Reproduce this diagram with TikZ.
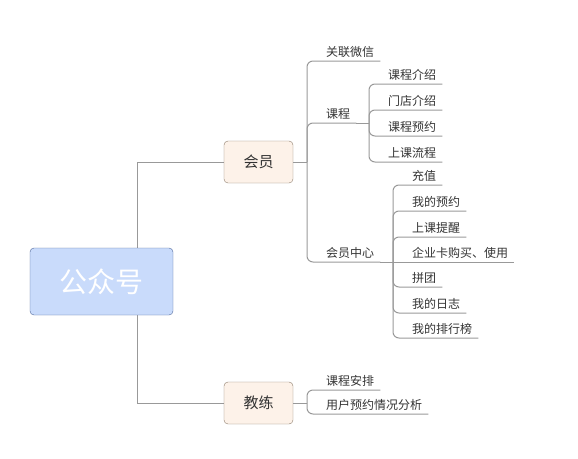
\documentclass[tikz,border=0pt]{standalone}
\usepackage{fontspec}
\newfontfamily\cjk{Noto Sans CJK SC}
\usepackage{xcolor}
\usepackage{tikz}
\usetikzlibrary{positioning, backgrounds, calc}
\definecolor{mmblue}{HTML}{C9DBFB}
\definecolor{mmblueline}{HTML}{4E6699}
\definecolor{mmcream}{HTML}{FDF2E9}
\definecolor{mmbrown}{HTML}{8C7B6B}
\definecolor{mmline}{HTML}{999999}
\definecolor{mmtext}{HTML}{333333}
\tikzset{
  rootnode/.style={draw=mmblueline, fill=mmblue, rounded corners=4pt, minimum width=143pt, minimum height=67pt, font=\cjk\fontsize{28}{30}\selectfont, text=white},
  topicnode/.style={draw=mmbrown, fill=mmcream, rounded corners=4pt, minimum width=69pt, minimum height=42pt, font=\cjk\fontsize{15}{17}\selectfont, text=mmtext},
  leafnode/.style={anchor=south west, inner xsep=6pt, inner ysep=2.5pt, text height=10.5pt, text depth=1.5pt, font=\cjk\fontsize{12}{14}\selectfont, text=mmtext},
  trunkline/.style={draw=mmline, line width=1pt},
  bracketline/.style={draw=mmline, line width=1pt, rounded corners=6pt}
}

\begin{document}
\begin{tikzpicture}[x=1pt, y=-1pt]
  \useasboundingbox (0,0) rectangle (578,458);

  % main topics
  \node[rootnode] at (101.5,281.5) (root) {公众号};
  \node[topicnode] at (258.5,162) (huiyuan) {会员};
  \node[topicnode] at (258.5,403) (jiaolian) {教练};

  \coordinate (trunk) at (137,281.5);
  \begin{pgfonlayer}{background}
    \draw[trunkline] (trunk) |- (huiyuan.west);
    \draw[trunkline] (trunk) |- (jiaolian.west);
  \end{pgfonlayer}

  % 会员
  \coordinate (hyjoin) at (307,162);
  \draw[trunkline] (huiyuan.east) -- (hyjoin);
  \node[leafnode] at (320,61) (glwx) {关联微信};
  \node[leafnode] at (320,123) (kecheng) {课程};
  \node[leafnode] at (320,262) (hyzx) {会员中心};
  \draw[bracketline] (hyjoin) |- (glwx.south east);
  \draw[bracketline] (hyjoin) |- (kecheng.south east);
  \draw[bracketline] (hyjoin) |- (hyzx.south east);

  % 课程
  \coordinate (kcjoin) at (369,123);
  \draw[trunkline] (kecheng.south east) -- (kcjoin);
  \node[leafnode] at (382,84) (kcjs) {课程介绍};
  \node[leafnode] at (382,110) (mdjs) {门店介绍};
  \node[leafnode] at (382,136) (kcyy) {课程预约};
  \node[leafnode] at (382,162) (sklc) {上课流程};
  \draw[bracketline] (kcjoin) |- (kcjs.south east);
  \draw[bracketline] (kcjoin) |- (mdjs.south east);
  \draw[bracketline] (kcjoin) |- (kcyy.south east);
  \draw[bracketline] (kcjoin) |- (sklc.south east);

  % 会员中心
  \coordinate (zxjoin) at (393,262);
  \draw[trunkline] (hyzx.south east) -- (zxjoin);
  \node[leafnode] at (406,185) (chongzhi) {充值};
  \node[leafnode] at (406,211) (wdyy) {我的预约};
  \node[leafnode] at (406,237) (sktx) {上课提醒};
  \node[leafnode] at (406,262) (qyk) {企业卡购买、使用};
  \node[leafnode] at (406,287) (pintuan) {拼团};
  \node[leafnode] at (406,313) (wdrz) {我的日志};
  \node[leafnode] at (406,338) (phb) {我的排行榜};
  \draw[bracketline] (zxjoin) |- (chongzhi.south east);
  \draw[bracketline] (zxjoin) |- (wdyy.south east);
  \draw[bracketline] (zxjoin) |- (sktx.south east);
  \draw[trunkline] (zxjoin) -- (qyk.south east);
  \draw[bracketline] (zxjoin) |- (pintuan.south east);
  \draw[bracketline] (zxjoin) |- (wdrz.south east);
  \draw[bracketline] (zxjoin) |- (phb.south east);

  % 教练
  \coordinate (jljoin) at (307,403);
  \draw[trunkline] (jiaolian.east) -- (jljoin);
  \node[leafnode] at (320,390) (kcap) {课程安排};
  \node[leafnode] at (320,414) (yyfx) {用户预约情况分析};
  \draw[bracketline] (jljoin) |- (kcap.south east);
  \draw[bracketline] (jljoin) |- (yyfx.south east);
\end{tikzpicture}
\end{document}
